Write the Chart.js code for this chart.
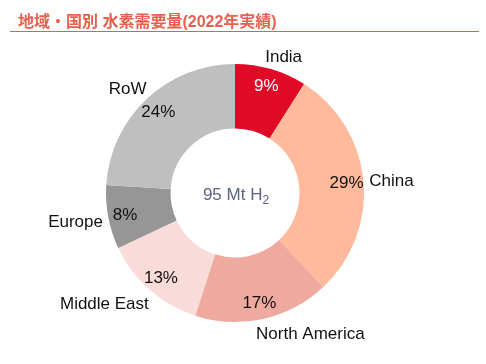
<!DOCTYPE html>
<html>
<head>
<meta charset="utf-8">
<script src="https://cdn.jsdelivr.net/npm/chart.js@4"></script>
<style>
  body { margin: 0; background: #fff; }
  #wrap { position: relative; width: 486px; height: 364px; }
  #titulo {
    position: absolute; left: 18px; top: 8px;
    font: bold 16px "Liberation Sans", "Noto Sans CJK JP", sans-serif;
    color: #e6604e; white-space: nowrap;
  }
  #linea {
    position: absolute; left: 10px; top: 31px; width: 469px; height: 1px;
    background: #e0604f;
  }
</style>
</head>
<body>
<div id="wrap">
  <div id="titulo">地域・国別 水素需要量(2022年実績)</div>
  <div id="linea"></div>
  <canvas id="demandaHidrogeno" width="486" height="364"></canvas>
</div>
<script>
// Datos de la gráfica
const regiones = ['India', 'China', 'North America', 'Middle East', 'Europe', 'RoW'];
const porcentajes = [9, 29, 17, 13, 8, 24];
const colores = ['#e00a26', '#ffb99b', '#efaaa0', '#f9dcd9', '#969696', '#bfbfbf'];
const coloresTexto = ['#ffffff', '#111111', '#111111', '#111111', '#111111', '#111111'];
const textoCentro = '95 Mt H';
const subindiceCentro = '2';

// Ajuste de las etiquetas de nombre: [giro en grados, distancia fuera del anillo]
const ajusteNombres = [[3.4, 16], [0.9, 28], [-15.7, 30], [8.4, 42], [0.6, 33], [-2.5, 21]];

const fuente = '17px "Liberation Sans", Arial, sans-serif';

// Plugin para porcentajes, nombres y texto central
const etiquetas = {
    id: 'etiquetas',
    afterDatasetsDraw(chart) {
        const c = chart.ctx;
        const arcos = chart.getDatasetMeta(0).data;
        c.save();
        c.font = fuente;
        c.textAlign = 'center';
        c.textBaseline = 'middle';
        arcos.forEach((arco, i) => {
            const p = arco.getProps(['x', 'y', 'startAngle', 'endAngle', 'outerRadius']);
            const medio = (p.startAngle + p.endAngle) / 2;
            const r1 = p.outerRadius - 17;
            c.fillStyle = coloresTexto[i];
            c.fillText(porcentajes[i] + '%', p.x + r1 * Math.cos(medio), p.y + r1 * Math.sin(medio) + 1);
            const ang = medio + ajusteNombres[i][0] * Math.PI / 180;
            const r2 = p.outerRadius + ajusteNombres[i][1];
            c.fillStyle = '#111111';
            c.fillText(regiones[i], p.x + r2 * Math.cos(ang), p.y + r2 * Math.sin(ang) + 1);
        });
        // Texto central
        const x = arcos[0].x, y = arcos[0].y;
        c.fillStyle = '#5b6382';
        const w1 = c.measureText(textoCentro).width;
        c.font = '12px "Liberation Sans", Arial, sans-serif';
        const w2 = c.measureText(subindiceCentro).width;
        const x0 = x - (w1 + w2) / 2 + 1;
        c.textAlign = 'left';
        c.font = fuente;
        c.fillText(textoCentro, x0, y + 2);
        c.font = '12px "Liberation Sans", Arial, sans-serif';
        c.fillText(subindiceCentro, x0 + w1, y + 8);
        c.restore();
    }
};

const ctx = document.getElementById('demandaHidrogeno');
new Chart(ctx, {
    type: 'doughnut',
    data: {
        labels: regiones,
        datasets: [{
            data: porcentajes,
            backgroundColor: colores,
            borderWidth: 0
        }]
    },
    options: {
        responsive: false,
        animation: false,
        cutout: '50%',
        layout: {
            padding: { left: 106, right: 122, top: 64, bottom: 42 }
        },
        plugins: {
            legend: { display: false },
            tooltip: { enabled: false }
        }
    },
    plugins: [etiquetas]
});
</script>
</body>
</html>
